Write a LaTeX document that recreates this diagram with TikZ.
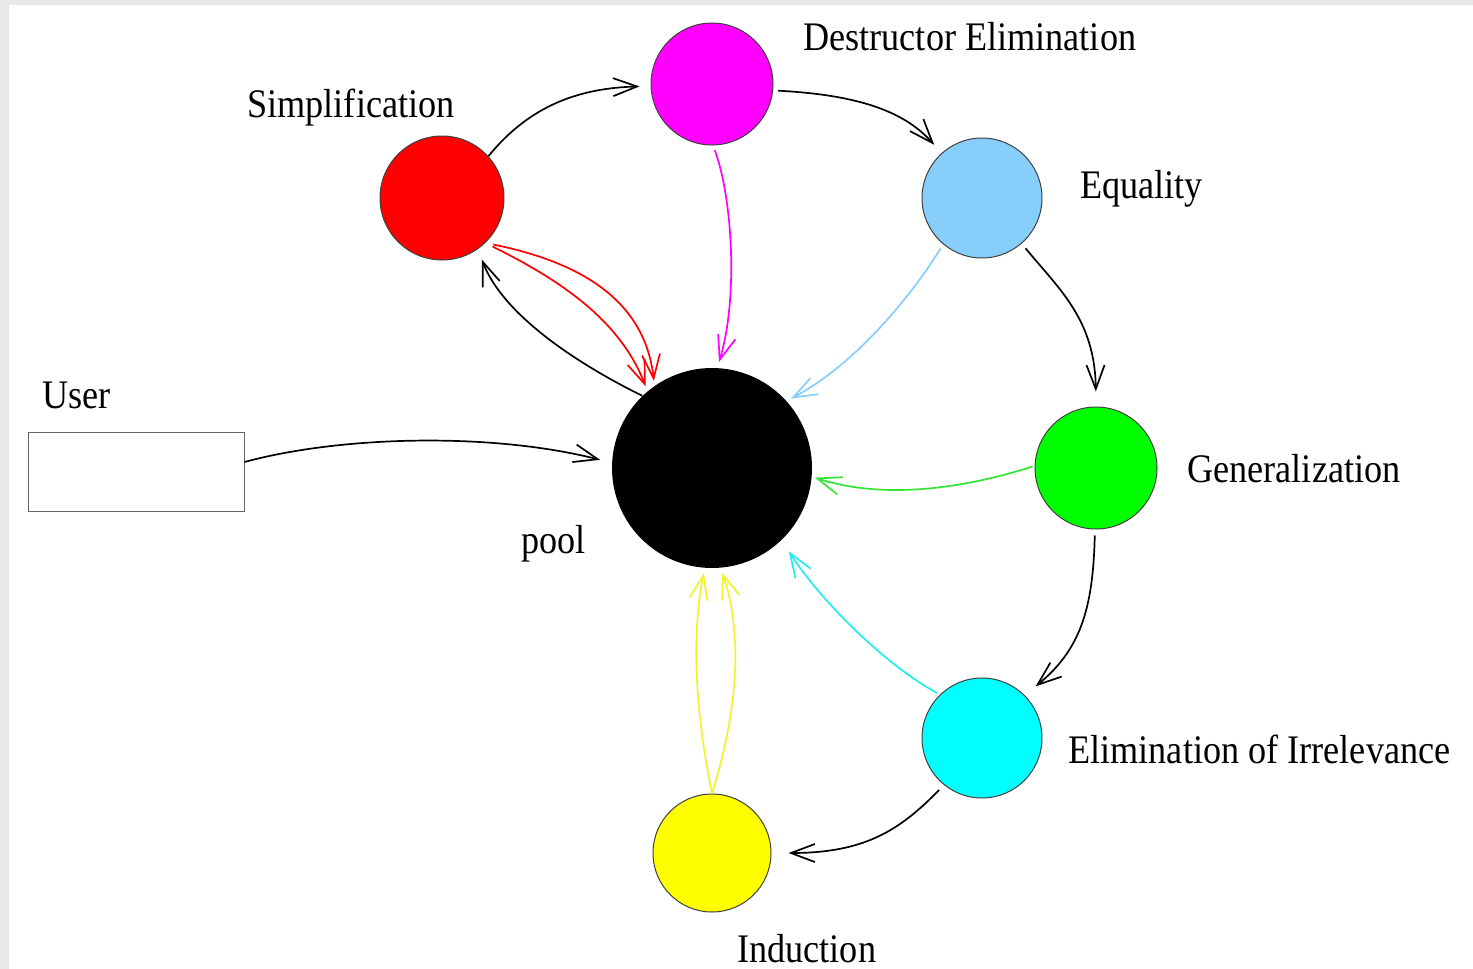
\documentclass[tikz,border=0pt]{standalone}
\usepackage{fontspec}
\setmainfont{Liberation Serif}
\usetikzlibrary{arrows.meta}
\definecolor{lsky}{HTML}{87CEFA}
\definecolor{cred}{HTML}{FF0000}
\definecolor{cmag}{HTML}{FF00FF}
\definecolor{cgrn}{HTML}{00FF00}
\definecolor{ccyan}{HTML}{00FFFF}
\definecolor{cyel}{HTML}{FFFF00}
\definecolor{grnline}{HTML}{33E633}
\definecolor{yelline}{HTML}{F2F22E}
\definecolor{cyanline}{HTML}{22EEEE}
\definecolor{pagegray}{HTML}{E8E8E8}
\newcommand{\tallbl}[1]{\scalebox{1}[1.12]{#1}}
\begin{document}
\begin{tikzpicture}[x=0.5pt,y=-0.5pt,
  ball/.style={circle, draw=black!75, line width=0.5pt, inner sep=0pt},
  lab/.style={anchor=base west, inner sep=0pt, font=\fontsize{18.1}{20}\selectfont},
  conn/.style={line width=0.85pt, -{Straight Barb[length=12pt,width=9pt]}},
]
\fill[pagegray] (0,0) rectangle (1473,969);
\fill[white] (9,5) rectangle (1473,969);
\useasboundingbox (0,0) rectangle (1473,969);

% nodes
\node[ball, fill=cred, minimum size=62pt] (red) at (442,198) {};
\node[ball, fill=cmag, minimum size=61pt] (mag) at (712,84) {};
\node[ball, fill=lsky, minimum size=60pt] (eq) at (982,198) {};
\node[ball, fill=cgrn, minimum size=61pt] (gen) at (1096,468) {};
\node[ball, fill=ccyan, minimum size=60pt] (elim) at (982,738) {};
\node[ball, fill=cyel, minimum size=59pt] (ind) at (712,853) {};
\node[circle, fill=black, inner sep=0pt, minimum size=100pt] (pool) at (712,468) {};
\node[draw=black!60, line width=0.5pt, minimum width=108pt, minimum height=39.5pt, inner sep=0pt] (user) at (136,471.5) {};

% labels
\node[lab] (lsimp) at (247,117) {\tallbl{Simplification}};
\node[lab] (ldest) at (803,50) {\tallbl{Destructor Elimination}};
\node[lab] (leq) at (1080,198) {\tallbl{Equality}};
\node[lab] (lgen) at (1187,482) {\tallbl{Generalization}};
\node[lab] (lelim) at (1068,763) {\tallbl{Elimination of Irrelevance}};
\node[lab] (lind) at (737,962) {\tallbl{Induction}};
\node[lab] (luser) at (42,408) {\tallbl{User}};
\node[lab] (lpool) at (521,553) {\tallbl{pool}};

% cycle (black)
\draw[conn, shorten >=5.5pt] (red.42) .. controls (530,105) and (580,88) .. (mag.182);
\draw[conn, shorten <=2.5pt, shorten >=5.5pt] (mag.-6) .. controls (860,95) and (905,112) .. (eq.132);
\draw[conn, shorten <=3pt, shorten >=7.5pt] (eq.-49) .. controls (1060,290) and (1095,320) .. (gen.90);
\draw[conn, shorten <=3pt, shorten >=7pt] (gen.-91) .. controls (1093,610) and (1080,650) .. (elim.45);
\draw[conn, shorten <=3.5pt, shorten >=8.5pt] (elim.-129) .. controls (900,830) and (865,853) .. (ind.0);

% user -> pool
\draw[conn, shorten >=6pt] (user.5) .. controls (340,436) and (490,432) .. (pool.177);

% pool -> simplification
\draw[conn, shorten >=5.5pt] (pool.134) .. controls (590,370) and (505,320) .. (red.-55);

% into pool
\draw[conn, cred, shorten <=4pt, shorten >=2.5pt] (red.-46) .. controls (580,262) and (645,300) .. (pool.125);
\draw[conn, cred, shorten <=4pt, shorten >=2.5pt] (red.-46) .. controls (560,280) and (620,320) .. (pool.130);
\draw[conn, cmag, shorten <=2.5pt, shorten >=3pt] (mag.-89) .. controls (733,200) and (738,300) .. (pool.87);
\draw[conn, lsky, shorten <=2.5pt, shorten >=2.5pt] (eq.-130) .. controls (912,295) and (855,365) .. (pool.42);
\draw[conn, grnline, shorten <=1pt, shorten >=1.5pt] (gen.178) .. controls (975,485) and (890,502) .. (pool.-5);
\draw[conn, cyanline, shorten <=1.5pt, shorten >=6.5pt] (elim.134) .. controls (885,665) and (820,600) .. (pool.-46);
\draw[conn, yelline, shorten >=2.5pt] (ind.90) .. controls (697,720) and (690,640) .. (pool.-94);
\draw[conn, yelline, shorten >=2.5pt] (ind.90) .. controls (735,720) and (745,640) .. (pool.-85);
\end{tikzpicture}
\end{document}
